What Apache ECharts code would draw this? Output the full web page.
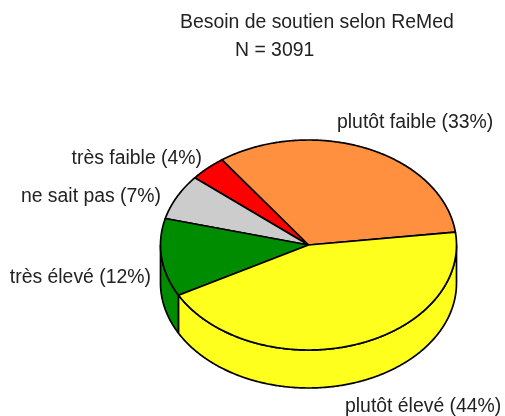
<!DOCTYPE html>
<html><head><meta charset="utf-8">
<style>html,body{margin:0;padding:0;background:#fff}#c{width:505px;height:416px}</style>
<script src="https://cdn.jsdelivr.net/npm/echarts@6/dist/echarts.min.js"></script>
</head><body><div id="c"></div>
<script>
const categories = ['plutôt faible', 'très faible', 'ne sait pas', 'très élevé', 'plutôt élevé'];
const percents = [33, 4, 7, 12, 44];
const colors = ['#FF9040', '#FF0000', '#CCCCCC', '#008C00', '#FFFF1E'];
const titleLines = ['Besoin de soutien selon ReMed', 'N = 3091'];

const geom = {cx: 308.5, cy: 245, rx: 148, ry: 105, depth: 38, start: 7};
const labelPos = [
  {x: 337, y: 123, align: 'left'},
  {x: 202, y: 159, align: 'right'},
  {x: 161, y: 197, align: 'right'},
  {x: 151, y: 278, align: 'right'},
  {x: 345, y: 407, align: 'left'}
];
const total = percents.reduce((a, b) => a + b, 0);
let acc = geom.start;
const spans = percents.map(p => { const s = acc; acc += p / total * 360; return [s, acc]; });
const pt = (deg, dy) => {
  const r = deg * Math.PI / 180;
  return [geom.cx + geom.rx * Math.cos(r), geom.cy - geom.ry * Math.sin(r) + (dy || 0)];
};
const arc = (a, b, dy) => {
  const n = Math.max(2, Math.ceil(Math.abs(b - a) * 2)), out = [];
  for (let i = 0; i <= n; i++) out.push(pt(a + (b - a) * i / n, dy));
  return out;
};
const lineStyle = {stroke: '#000', lineWidth: 1.7, lineJoin: 'round'};
const textFont = '"Liberation Sans", Arial, sans-serif';

function renderSlice(params, api) {
  const i = api.value(0), [a, b] = spans[i], children = [];
  // visible wall: the front half of the rim (180..360 degrees)
  const wa = Math.max(a, 180), wb = Math.min(b, 360);
  if (wb > wa) {
    children.push({type: 'polygon', z2: 1,
      shape: {points: arc(wa, wb, 0).concat(arc(wb, wa, geom.depth))},
      style: Object.assign({fill: colors[i]}, lineStyle)});
  }
  children.push({type: 'polygon', z2: 2,
    shape: {points: [[geom.cx, geom.cy]].concat(arc(a, b, 0))},
    style: Object.assign({fill: colors[i]}, lineStyle)});
  const l = labelPos[i];
  children.push({type: 'text', z2: 3, x: l.x, y: l.y,
    style: {text: categories[i] + ' (' + percents[i] + '%)', fill: '#222',
      font: '19.4px ' + textFont, align: l.align, verticalAlign: 'middle'}});
  return {type: 'group', children};
}

const chart = echarts.init(document.getElementById('c'), null, {renderer: 'canvas'});
chart.setOption({
  animation: false,
  backgroundColor: '#fff',
  title: [
    {text: titleLines[0], left: 175, top: 8, textStyle: {fontSize: 19.4, fontWeight: 'normal', color: '#222', fontFamily: textFont}},
    {text: titleLines[1], left: 230, top: 36, textStyle: {fontSize: 19.4, fontWeight: 'normal', color: '#222', fontFamily: textFont}}
  ],
  series: [{
    type: 'custom',
    coordinateSystem: 'none',
    renderItem: renderSlice,
    data: percents.map((p, i) => [i, p]),
    silent: true
  }]
});
</script></body></html>
